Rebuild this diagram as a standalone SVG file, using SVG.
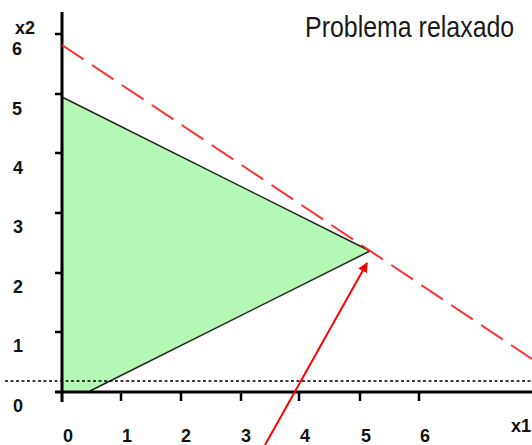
<svg xmlns="http://www.w3.org/2000/svg" width="532" height="445" viewBox="0 0 532 445">
<defs>
<style>
.lbl{font-family:"Liberation Sans",Arial,sans-serif;font-weight:bold;font-size:18px;fill:#111;text-anchor:middle}
.axis{stroke:#000;stroke-width:3;fill:none}
.tick{stroke:#000;stroke-width:2.5}
.edge{stroke:#222;stroke-width:1.5;fill:none}
</style>
<marker id="ah" markerWidth="10" markerHeight="10" refX="9" refY="5" orient="auto" markerUnits="userSpaceOnUse" viewBox="0 0 10 10">
<path d="M0,0 L10,5 L0,10 z" fill="#ff0000"/>
</marker>
</defs>
<rect width="532" height="445" fill="#fff"/>
<g id="region">
<polygon points="62,97 370,251 90,391 62,391" fill="#b3f8b3"/>
<line class="edge" x1="62" y1="97" x2="370" y2="251"/>
<line class="edge" x1="90" y1="391" x2="370" y2="251"/>
</g>
<g id="axes">
<line class="axis" x1="62" y1="12" x2="62" y2="402"/>
<line class="axis" x1="55" y1="392" x2="532" y2="392"/>
<g class="tick">
<line x1="121" y1="392" x2="121" y2="401"/>
<line x1="181" y1="392" x2="181" y2="401"/>
<line x1="241" y1="392" x2="241" y2="401"/>
<line x1="299" y1="392" x2="299" y2="401"/>
<line x1="360" y1="392" x2="360" y2="401"/>
<line x1="419" y1="392" x2="419" y2="401"/>
<line x1="55" y1="34" x2="62" y2="34"/>
<line x1="55" y1="94" x2="62" y2="94"/>
<line x1="55" y1="153" x2="62" y2="153"/>
<line x1="55" y1="213" x2="62" y2="213"/>
<line x1="55" y1="273" x2="62" y2="273"/>
<line x1="55" y1="332" x2="62" y2="332"/>
</g>
</g>
<g id="labels">
<text class="lbl" x="25" y="34">x2</text>
<text class="lbl" x="17" y="55">6</text>
<text class="lbl" x="17" y="115">5</text>
<text class="lbl" x="18" y="174">4</text>
<text class="lbl" x="18" y="233">3</text>
<text class="lbl" x="18" y="293">2</text>
<text class="lbl" x="18" y="352">1</text>
<text class="lbl" x="18" y="412">0</text>
<text class="lbl" x="68" y="442">0</text>
<text class="lbl" x="127" y="442">1</text>
<text class="lbl" x="186" y="442">2</text>
<text class="lbl" x="246" y="442">3</text>
<text class="lbl" x="305" y="442">4</text>
<text class="lbl" x="366" y="442">5</text>
<text class="lbl" x="425" y="442">6</text>
<text class="lbl" x="521" y="432">x1</text>
<text transform="translate(305,37) scale(0.86,1)" font-family="'Liberation Sans',Arial,sans-serif" font-size="29" fill="#1a1a1a">Problema relaxado</text>
</g>
<g id="connectors">
<line x1="62" y1="45" x2="532" y2="359" stroke="#ff3030" stroke-width="2" stroke-dasharray="26,10"/>
<line x1="5" y1="381" x2="532" y2="381" stroke="#000" stroke-width="1.3" stroke-dasharray="3,2.5"/>
<line x1="265" y1="445" x2="367" y2="263" stroke="#ff0000" stroke-width="2" marker-end="url(#ah)"/>
</g>
</svg>
